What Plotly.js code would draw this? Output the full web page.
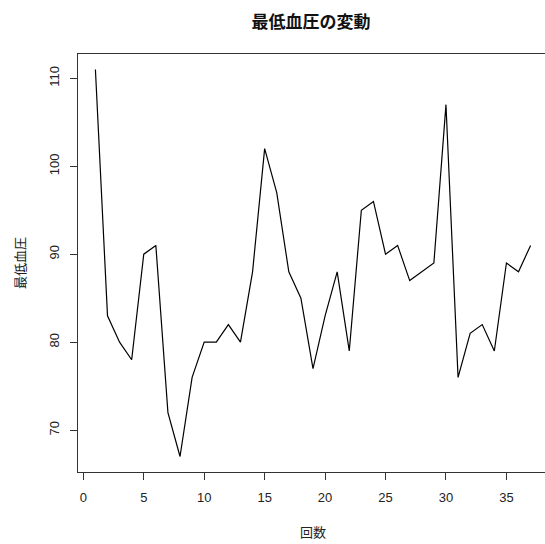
<!DOCTYPE html>
<html>
<head>
<meta charset="utf-8">
<script src="https://cdn.plot.ly/plotly-3.0.1.min.js"></script>
<style>
html, body { margin: 0; padding: 0; overflow: hidden; background: #fff; }
#chart { width: 560px; height: 544px; }
</style>
</head>
<body>
<div id="chart"></div>
<script>
// Data
const counts = [1,2,3,4,5,6,7,8,9,10,11,12,13,14,15,16,17,18,19,20,21,22,23,24,25,26,27,28,29,30,31,32,33,34,35,36,37];
const diastolic = [111,83,80,78,90,91,72,67,76,80,80,82,80,88,102,97,88,85,77,83,88,79,95,96,90,91,87,88,89,107,76,81,82,79,89,88,91];
const xTicks = [0,5,10,15,20,25,30,35];
const yTicks = [70,80,90,100,110];
const titleText = '最低血圧の変動';
const xTitle = '回数';
const yTitle = '最低血圧';

const FONT = '"Liberation Sans", Arimo, "Noto Sans CJK JP", sans-serif';

const trace = {
  x: counts,
  y: diastolic,
  type: 'scatter',
  mode: 'lines',
  line: { color: '#000', width: 1.2 },
  hoverinfo: 'skip'
};

const layout = {
  width: 560,
  height: 544,
  margin: { l: 78, r: 12, t: 54, b: 72 },
  paper_bgcolor: '#fff',
  plot_bgcolor: '#fff',
  showlegend: false,
  font: { family: FONT, size: 13, color: '#222' },
  title: {
    text: '<b>' + titleText + '</b>',
    font: { family: '"Noto Sans CJK JP", sans-serif', size: 17, color: '#111' },
    xref: 'paper', x: 0.496, xanchor: 'center',
    yref: 'container', y: 1 - 22/544, yanchor: 'middle'
  },
  xaxis: {
    range: [-0.44, 38.44],
    tickmode: 'array', tickvals: xTicks, ticktext: xTicks.map(String),
    showgrid: false, zeroline: false,
    showline: true, mirror: true, linecolor: '#333', linewidth: 1,
    ticks: 'outside', ticklen: 7, tickcolor: '#333', tickwidth: 1,
    ticklabelstandoff: 6,
    tickfont: { family: FONT, size: 13, color: '#222' },
    title: { text: xTitle, standoff: 24, font: { family: '"Noto Sans CJK JP", sans-serif', size: 13, color: '#222' } },
    automargin: false
  },
  yaxis: {
    range: [65.24, 112.76],
    tickmode: 'array', tickvals: yTicks, ticktext: yTicks.map(String),
    showgrid: false, zeroline: false,
    showline: true, mirror: false, linecolor: '#333', linewidth: 1,
    ticks: 'outside', ticklen: 7, tickcolor: '#333', tickwidth: 1,
    tickangle: -90,
    ticklabelstandoff: 6,
    tickfont: { family: FONT, size: 13, color: '#222' },
    title: { text: yTitle, standoff: 18, font: { family: '"Noto Sans CJK JP", sans-serif', size: 13, color: '#222' } },
    automargin: false
  }
};

Plotly.newPlot('chart', [trace], layout, { staticPlot: true, displayModeBar: false });
</script>
</body>
</html>
